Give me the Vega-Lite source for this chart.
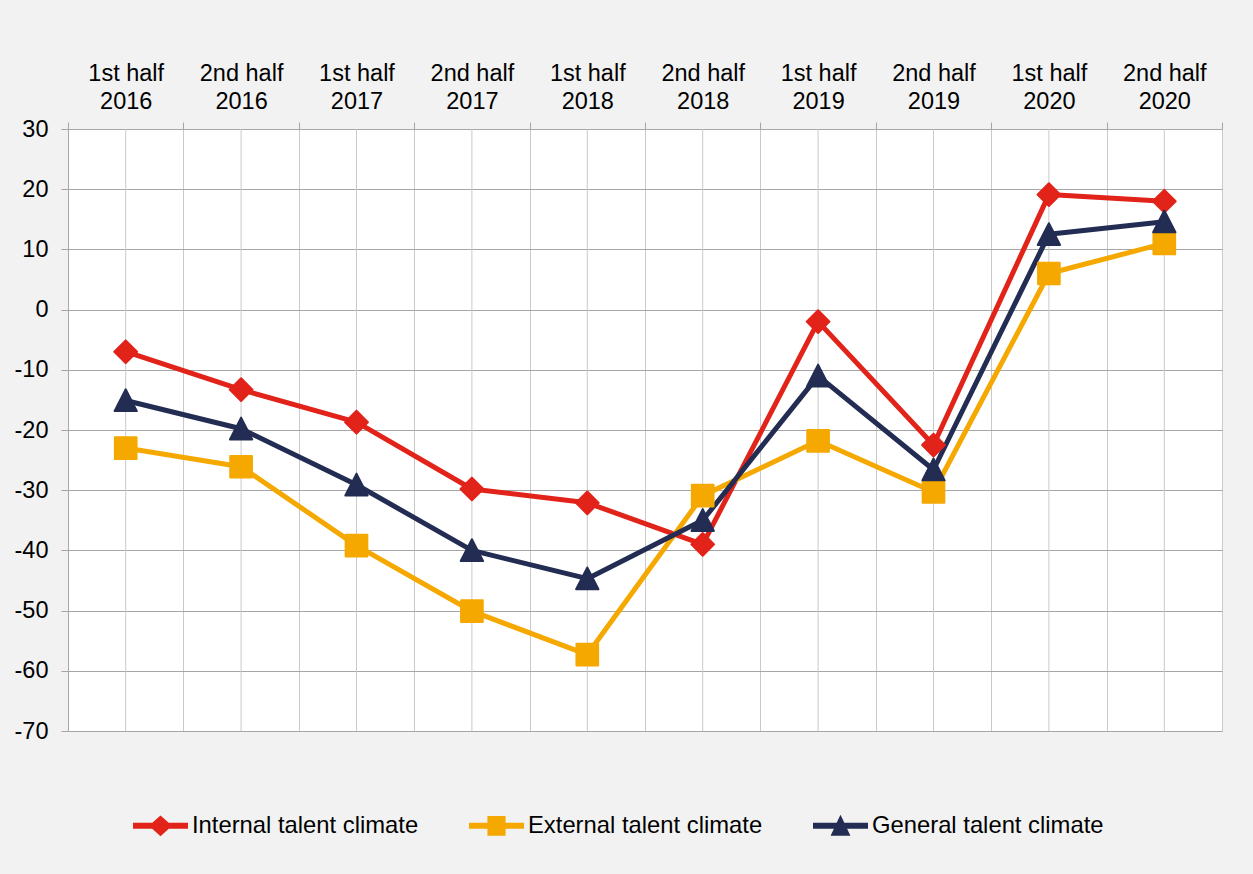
{
  "$schema": "https://vega.github.io/schema/vega-lite/v6.json",
  "width": 1154,
  "height": 602,
  "autosize": {"type": "none"},
  "padding": {"left": 68, "top": 129, "right": 31, "bottom": 143},
  "background": "#f2f2f2",
  "config": {
    "font": "Liberation Sans",
    "view": {"fill": "white", "stroke": null},
    "axis": {"labelFont": "Liberation Sans", "labelColor": "#000000", "labelFontSize": 23.5}
  },
  "data": {
    "values": [
      {"period": "1st half 2016", "series": "Internal talent climate", "value": -7.0},
      {"period": "2nd half 2016", "series": "Internal talent climate", "value": -13.3},
      {"period": "1st half 2017", "series": "Internal talent climate", "value": -18.7},
      {"period": "2nd half 2017", "series": "Internal talent climate", "value": -29.8},
      {"period": "1st half 2018", "series": "Internal talent climate", "value": -32.1},
      {"period": "2nd half 2018", "series": "Internal talent climate", "value": -39.0},
      {"period": "1st half 2019", "series": "Internal talent climate", "value": -2.0},
      {"period": "2nd half 2019", "series": "Internal talent climate", "value": -22.5},
      {"period": "1st half 2020", "series": "Internal talent climate", "value": 19.1},
      {"period": "2nd half 2020", "series": "Internal talent climate", "value": 18.0},
      {"period": "1st half 2016", "series": "External talent climate", "value": -23.0},
      {"period": "2nd half 2016", "series": "External talent climate", "value": -26.1},
      {"period": "1st half 2017", "series": "External talent climate", "value": -39.2},
      {"period": "2nd half 2017", "series": "External talent climate", "value": -50.1},
      {"period": "1st half 2018", "series": "External talent climate", "value": -57.3},
      {"period": "2nd half 2018", "series": "External talent climate", "value": -30.9},
      {"period": "1st half 2019", "series": "External talent climate", "value": -21.8},
      {"period": "2nd half 2019", "series": "External talent climate", "value": -30.3},
      {"period": "1st half 2020", "series": "External talent climate", "value": 6.0},
      {"period": "2nd half 2020", "series": "External talent climate", "value": 11.0},
      {"period": "1st half 2016", "series": "General talent climate", "value": -15.1},
      {"period": "2nd half 2016", "series": "General talent climate", "value": -19.8},
      {"period": "1st half 2017", "series": "General talent climate", "value": -29.1},
      {"period": "2nd half 2017", "series": "General talent climate", "value": -40.0},
      {"period": "1st half 2018", "series": "General talent climate", "value": -44.7},
      {"period": "2nd half 2018", "series": "General talent climate", "value": -35.0},
      {"period": "1st half 2019", "series": "General talent climate", "value": -11.0},
      {"period": "2nd half 2019", "series": "General talent climate", "value": -26.6},
      {"period": "1st half 2020", "series": "General talent climate", "value": 12.5},
      {"period": "2nd half 2020", "series": "General talent climate", "value": 14.6}
    ]
  },
  "encoding": {
    "x": {
      "field": "period",
      "type": "nominal",
      "sort": null,
      "scale": {"type": "band", "paddingInner": 0, "paddingOuter": 0},
      "axis": {
        "orient": "top",
        "title": null,
        "tickBand": "extent",
        "domain": false,
        "grid": true,
        "gridColor": "#c9c9c9",
        "gridWidth": 1,
        "ticks": true,
        "tickColor": "#a6a6a6",
        "tickSize": 7,
        "labelAngle": 0,
        "labelPadding": 37,
        "labelLineHeight": 28,
        "labelExpr": "[substring(datum.label, 0, 8), substring(datum.label, 9)]"
      }
    },
    "y": {
      "field": "value",
      "type": "quantitative",
      "scale": {"domain": [-70, 30], "nice": false, "zero": false},
      "axis": {
        "title": null,
        "values": [-70, -60, -50, -40, -30, -20, -10, 0, 10, 20, 30],
        "labelExpr": "datum.value + ''",
        "grid": true,
        "gridColor": "#a6a6a6",
        "domainColor": "#a6a6a6",
        "tickColor": "#a6a6a6",
        "tickSize": 7,
        "labelPadding": 13
      }
    }
  },
  "layer": [
    {
      "transform": [{"filter": "datum.series === 'Internal talent climate'"}],
      "mark": {"type": "rule", "color": "#c9c9c9", "strokeWidth": 1},
      "encoding": {"y": null}
    },
    {
      "mark": {"type": "line", "strokeWidth": 5, "strokeJoin": "round"},
      "encoding": {
        "color": {
          "field": "series",
          "type": "nominal",
          "scale": {
            "domain": ["Internal talent climate", "External talent climate", "General talent climate"],
            "range": ["#e2231a", "#f5a800", "#232c52"]
          },
          "legend": {
            "title": null,
            "orient": "none",
            "direction": "horizontal",
            "legendX": 65,
            "legendY": 669,
            "columnPadding": 50,
            "labelFont": "Liberation Sans",
            "labelFontSize": 23.8,
            "labelColor": "#000000",
            "labelLimit": 0,
            "labelOffset": 4,
            "symbolSize": 3025,
            "symbolStrokeWidth": 0,
            "encode": {
              "symbols": {
                "update": {
                  "shape": {"signal": "datum.value === 'Internal talent climate' ? 'M-1,-0.11L-0.3,-0.11L0,-0.38L0.3,-0.11L1,-0.11L1,0.11L0.3,0.11L0,0.38L-0.3,0.11L-1,0.11Z' : datum.value === 'External talent climate' ? 'M-1,-0.11L-0.33,-0.11L-0.33,-0.36L0.33,-0.36L0.33,-0.11L1,-0.11L1,0.11L0.33,0.11L0.33,0.36L-0.33,0.36L-0.33,0.11L-1,0.11Z' : 'M-1,-0.11L-0.14,-0.11L0,-0.4L0.14,-0.11L1,-0.11L1,0.11L0.24,0.11L0.36,0.36L-0.36,0.36L-0.24,0.11L-1,0.11Z'"},
                  "fill": {"scale": "color", "field": "value"},
                  "fillOpacity": {"value": 1},
                  "strokeWidth": {"value": 0}
                }
              }
            }
          }
        },
        "order": {"value": null},
        "detail": {"field": "series"}
      }
    },
    {
      "transform": [{"filter": "datum.series === 'Internal talent climate'"}],
      "mark": {"type": "point", "shape": "diamond", "filled": true, "opacity": 1, "size": 520, "fill": "#e2231a", "stroke": "#e2231a", "strokeWidth": 2, "strokeJoin": "round"}
    },
    {
      "transform": [{"filter": "datum.series === 'External talent climate'"}],
      "mark": {"type": "point", "shape": "square", "filled": true, "opacity": 1, "size": 470, "fill": "#f5a800", "stroke": "#f5a800", "strokeWidth": 2, "strokeJoin": "round"}
    },
    {
      "transform": [{"filter": "datum.series === 'General talent climate'"}],
      "mark": {"type": "point", "shape": "M0,-1L1,0.95L-1,0.95Z", "filled": true, "opacity": 1, "size": 500, "fill": "#232c52", "stroke": "#232c52", "strokeWidth": 2, "strokeJoin": "round"}
    }
  ]
}
